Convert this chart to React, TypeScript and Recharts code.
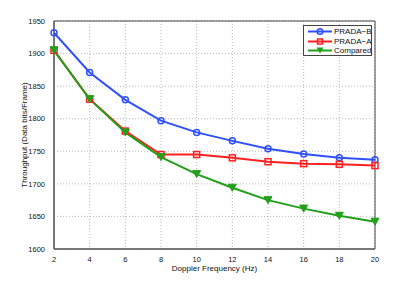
import { LineChart, Line, XAxis, YAxis, CartesianGrid, ReferenceArea, Label } from 'recharts';

const freqs = [2, 4, 6, 8, 10, 12, 14, 16, 18, 20];
const pradaB = [1932, 1871, 1829, 1797, 1779, 1766, 1754, 1746, 1740, 1737];
const pradaA = [1905, 1830, 1781, 1745, 1745, 1740, 1734, 1731, 1730, 1728];
const compared = [1905, 1830, 1779, 1741, 1715, 1694, 1675, 1662, 1651, 1642];
const xTicks = [2, 4, 6, 8, 10, 12, 14, 16, 18, 20];
const yTicks = [1600, 1650, 1700, 1750, 1800, 1850, 1900, 1950];

const data = freqs.map((f, i) => ({ f, b: pradaB[i], a: pradaA[i], c: compared[i] }));

const BLUE = '#3050ff';
const RED = '#ff2020';
const GREEN = '#22a01a';
const FONT = '"Liberation Sans", Arial, sans-serif';

const Circle = (p: any) => (
  <circle key={p.index} cx={p.cx} cy={p.cy} r={3} fill="none" stroke={BLUE} strokeWidth={1.5} />
);
const Square = (p: any) => (
  <rect key={p.index} x={p.cx - 3} y={p.cy - 3} width={6} height={6} fill="none" stroke={RED} strokeWidth={1.5} />
);
const Tri = (p: any) => (
  <path key={p.index} d={`M${p.cx - 4},${p.cy - 3.5} L${p.cx + 4},${p.cy - 3.5} L${p.cx},${p.cy + 3.5} Z`} fill={GREEN} stroke={GREEN} />
);

const legendItems = [
  { name: 'PRADA\u2212B', color: BLUE, mark: 'o' },
  { name: 'PRADA\u2212A', color: RED, mark: 's' },
  { name: 'Compared', color: GREEN, mark: 'v' },
];

const MyLegend = () => (
  <div style={{ position: 'absolute', left: 303, top: 25, border: '1px solid #444', background: '#fff', width: 67, height: 29, fontFamily: FONT, fontSize: 8 }}>
    {legendItems.map((it, i) => (
      <div key={it.name} style={{ position: 'absolute', left: 0, top: 1 + i * 9.5, height: 9, display: 'flex', alignItems: 'center' }}>
        <svg width={30} height={9}>
          <line x1={4} x2={28} y1={4.5} y2={4.5} stroke={it.color} strokeWidth={2} />
          {it.mark === 'o' && <circle cx={16} cy={4.5} r={2.8} fill="none" stroke={it.color} strokeWidth={1.5} />}
          {it.mark === 's' && <rect x={13.5} y={2} width={5} height={5} fill="none" stroke={it.color} strokeWidth={1.5} />}
          {it.mark === 'v' && <path d="M12.5,1.5 L19.5,1.5 L16,7.5 Z" fill={it.color} />}
        </svg>
        <span style={{ color: '#111', lineHeight: '9px' }}>{it.name}</span>
      </div>
    ))}
  </div>
);

const tickStyle = { fontSize: 7.5, fill: '#111', fontFamily: FONT };

export default function App() {
  return (
    <div style={{ position: 'absolute', left: 0, top: 0, width: 415, height: 281, background: '#fff' }}>
      <LineChart width={415} height={281} data={data} margin={{ top: 21, right: 40, left: 0, bottom: 0 }}>
        <CartesianGrid stroke="#bbb" strokeDasharray="1 2" horizontalValues={yTicks} verticalValues={xTicks} />
        <XAxis
          dataKey="f"
          type="number"
          domain={[2, 20]}
          ticks={xTicks}
          height={32}
          tick={tickStyle}
          tickLine={false}
          tickMargin={2}
          stroke="#555"
          interval={0}
        >
          <Label value="Doppler Frequency (Hz)" position="insideBottom" offset={10} style={{ fontSize: 8, fill: '#111', fontFamily: FONT }} />
        </XAxis>
        <YAxis
          type="number"
          domain={[1600, 1950]}
          ticks={yTicks}
          width={54}
          tick={tickStyle}
          tickLine={false}
          tickMargin={3}
          stroke="#555"
          interval={0}
        >
          <Label value="Throughput (Data bits/Frame)" angle={-90} position="insideLeft" offset={24} style={{ fontSize: 8, fill: '#111', fontFamily: FONT, textAnchor: 'middle' }} />
        </YAxis>
        <ReferenceArea x1={2} x2={20} y1={1600} y2={1950} fill="none" stroke="#444" strokeWidth={1} ifOverflow="visible" />
        <Line dataKey="b" stroke={BLUE} strokeWidth={2} dot={Circle} isAnimationActive={false} />
        <Line dataKey="a" stroke={RED} strokeWidth={2} dot={Square} isAnimationActive={false} />
        <Line dataKey="c" stroke={GREEN} strokeWidth={2} dot={Tri} isAnimationActive={false} />
      </LineChart>
      <MyLegend />
    </div>
  );
}
